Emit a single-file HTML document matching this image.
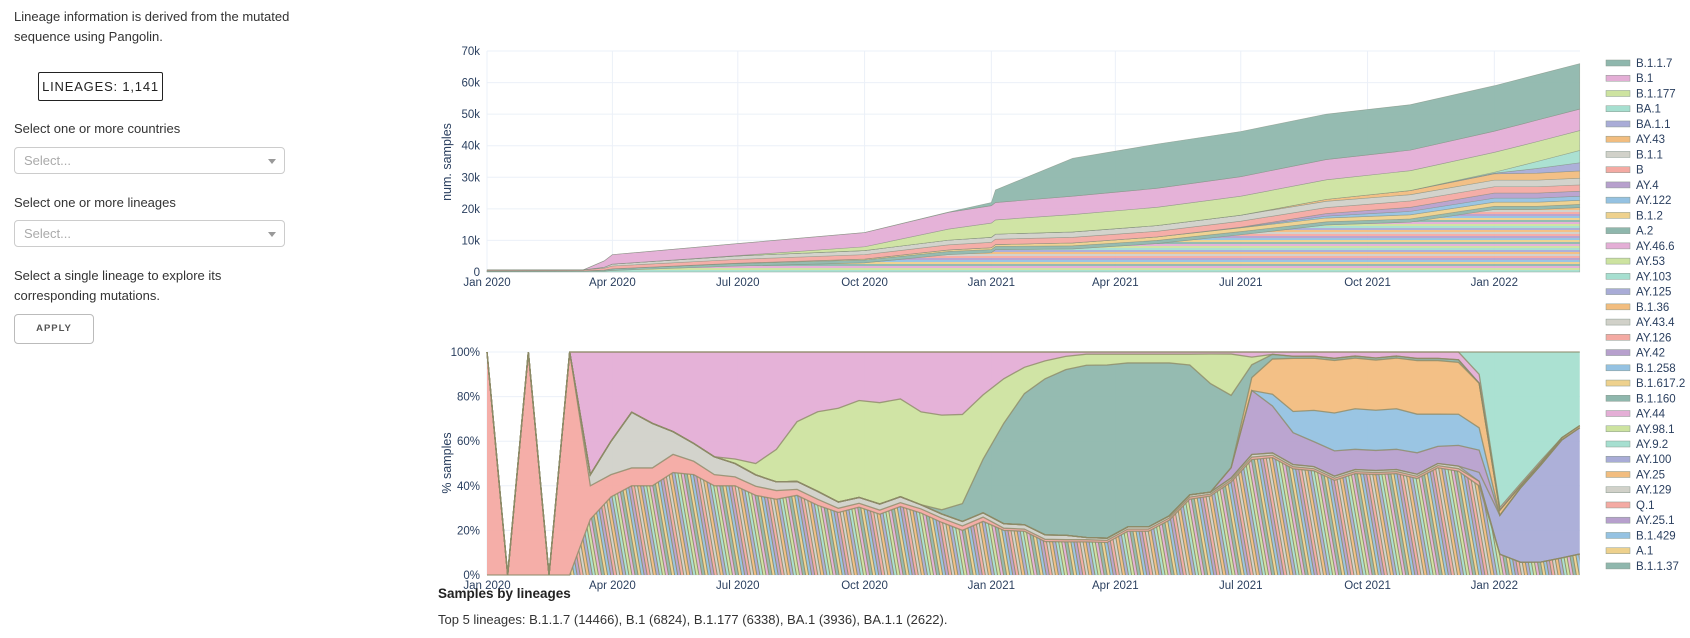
<!DOCTYPE html>
<html><head><meta charset="utf-8">
<style>
body{margin:0;width:1690px;height:638px;overflow:hidden;background:#fff;font-family:"Liberation Sans",sans-serif;color:#333;}
.t{position:absolute;font-size:13px;color:#333;line-height:20px;white-space:nowrap;}
.sel{position:absolute;left:14px;width:271px;height:27px;border:1px solid #ccc;border-radius:4px;box-sizing:border-box;}
.sel span{position:absolute;left:9px;top:5px;font-size:13px;color:#aaa;}
.sel i{position:absolute;right:8px;top:11px;width:0;height:0;border-left:4px solid transparent;border-right:4px solid transparent;border-top:5px solid #999;}
</style></head><body>
<div class="t" style="left:14px;top:7px;">Lineage information is derived from the mutated<br>sequence using Pangolin.</div>
<div style="position:absolute;left:38px;top:72px;width:125px;height:29px;border:1px solid #222;border-radius:2px;box-sizing:border-box;font-size:13px;letter-spacing:0.8px;color:#222;text-align:center;line-height:27px;white-space:nowrap;">LINEAGES: 1,141</div>
<div class="t" style="left:14px;top:119px;">Select one or more countries</div>
<div class="sel" style="top:147px;"><span>Select...</span><i></i></div>
<div class="t" style="left:14px;top:193px;">Select one or more lineages</div>
<div class="sel" style="top:220px;"><span>Select...</span><i></i></div>
<div class="t" style="left:14px;top:266px;">Select a single lineage to explore its<br>corresponding mutations.</div>
<div style="position:absolute;left:14px;top:314px;width:80px;height:30px;border:1px solid #bbb;border-radius:4px;box-sizing:border-box;font-size:9.5px;font-weight:bold;letter-spacing:1px;color:#555;text-align:center;line-height:28px;">APPLY</div>
<div style="position:absolute;left:438px;top:586px;font-size:13.5px;font-weight:bold;color:#222;">Samples by lineages</div>
<div style="position:absolute;left:438px;top:612px;font-size:13px;color:#333;">Top 5 lineages: B.1.1.7 (14466), B.1 (6824), B.1.177 (6338), BA.1 (3936), BA.1.1 (2622).</div>
<svg id="chart" width="1690" height="638" style="position:absolute;left:0;top:0;pointer-events:none" xmlns="http://www.w3.org/2000/svg"></svg>
<script>
// ---- data ----
const topDays=[0,70,85,91,182,274,335,366,369,425,486,547,609,670,731,762,793];
const topNames=["other","A.2","B.1.2","AY.122","AY.4","B","B.1.1","AY.43","BA.1.1","BA.1","B.1.177","B.1","B.1.1.7"];
const t_other=[0.2,0.25,0.3,0.5,1.9,2.9,5.5,6.1,7.1,7.3,9,11.8,14.9,15.8,19.8,19.8,20.4];
const t_A2=[0.1,0.1,0.3,0.5,0.8,0.9,1,1,1,1,1,1,1,1,1,1,1];
const t_B12=[0,0,0,0,0.1,0.3,0.5,0.6,0.6,0.9,1.1,1.2,1.2,1.3,1.3,1.3,1.3];
const t_AY122=[0,0,0,0,0,0,0,0,0,0,0,0.1,0.6,1.1,1.3,1.3,1.3];
const t_AY4=[0,0,0,0,0,0,0,0,0,0,0,0.1,0.8,1.3,1.6,1.6,1.6];
const t_B=[0.3,0.35,0.6,0.9,1.2,1.4,1.6,1.7,1.7,1.8,1.8,1.9,1.9,2,2,2,2];
const t_B11=[0,0,0.3,0.6,1.1,1.3,1.5,1.6,1.6,1.7,1.8,1.9,2,2,2.1,2.1,2.1];
const t_AY43=[0,0,0,0,0,0,0,0,0,0,0,0,0.6,1.3,2,2.2,2.3];
const t_BA11=[0,0,0,0,0,0,0,0,0,0,0,0,0,0,0.2,1.5,2.6];
const t_BA1=[0,0,0,0,0,0,0,0,0,0,0,0,0,0,0.3,2.2,3.9];
const t_B1177=[0,0,0,0,0.1,1.2,3.5,4.5,4.5,5.5,5.8,6,6.2,6.3,6.3,6.3,6.3];
const t_B1=[0,0,2,3,3.8,4.5,5.3,5.5,5.5,5.8,6,6.2,6.4,6.5,6.7,6.8,6.8];
const t_B117=[0,0,0,0,0,0,0.1,1,4,12,14,14.3,14.4,14.4,14.4,14.4,14.4];
const topSeries=[t_other,t_A2,t_B12,t_AY122,t_AY4,t_B,t_B11,t_AY43,t_BA11,t_BA1,t_B1177,t_B1,t_B117];
const topTicks=[0,10,20,30,40,50,60,70];
const topTickLabels=["0","10k","20k","30k","40k","50k","60k","70k"];
const xTickDays=[0,91,182,274,366,456,547,639,731];
const xTickLabels=["Jan 2020","Apr 2020","Jul 2020","Oct 2020","Jan 2021","Apr 2021","Jul 2021","Oct 2021","Jan 2022"];
const botDays=[0,15,30,45,60,75,90,105,120,135,150,165,180,195,210,225,240,255,270,285,300,315,330,345,360,375,390,405,420,435,450,465,480,495,510,525,540,555,570,585,600,615,630,645,660,675,690,705,720,735,750,765,780,793];
const botNames=["other","B","B.1.1","BA.1.1","AY.4","AY.122","AY.43","B.1.1.7","B.1.177","B.1","BA.1"];
const p_other=[0,0,0,0,0,25,35,40,40,45,45,40,40,35,35,40,35,30,35,30,35,30,25,20,25,20,20,15,15,15,15,20,20,25,35,40,45,45,50,50,50,45,50,50,50,45,50,40,20,8,6,6,8,10];
const p_B=[100,0,100,0,100,15,10,8,8,8,6,5,4,4,4,3,3,2,2,2,2,2,2,2,2,1,1,1,1,1,1,1,1,1,1,1,1,1,1,1,1,1,1,1,1,1,1,1,1,0,0,0,0,0];
const p_B11=[0,0,0,0,0,5,15,25,20,10,8,8,6,5,4,4,4,3,3,3,3,2,2,2,2,2,2,2,2,1,1,1,1,1,1,1,1,1,1,1,1,1,1,1,1,1,1,1,0,0,0,0,0,0];
const p_BA11=[0,0,0,0,0,0,0,0,0,0,0,0,0,0,0,0,0,0,0,0,0,0,0,0,0,0,0,0,0,0,0,0,0,0,0,0,0,0,0,0,0,0,0,0,0,0,0,0,2,15,35,45,55,60];
const p_AY4=[0,0,0,0,0,0,0,0,0,0,0,0,0,0,0,0,0,0,0,0,0,0,0,0,0,0,0,0,0,0,0,0,0,0,0,0,5,25,20,15,12,12,10,10,10,10,8,8,5,0,0,0,0,0];
const p_AY122=[0,0,0,0,0,0,0,0,0,0,0,0,0,0,0,0,0,0,0,0,0,0,0,0,0,0,0,0,0,0,0,0,0,0,0,0,0,0,5,10,15,18,20,20,20,18,15,12,5,0,0,0,0,0];
const p_AY43=[0,0,0,0,0,0,0,0,0,0,0,0,0,0,0,0,0,0,0,0,0,0,0,0,0,0,0,0,0,0,0,0,0,0,0,0,0,5,15,25,25,25,25,25,25,25,25,20,10,2,1,1,1,1];
const p_B117=[0,0,0,0,0,0,0,0,0,0,0,0,0,0,0,0,0,0,0,0,0,0,2,8,25,45,60,70,75,78,80,75,75,70,60,55,35,5,2,1,1,1,1,1,1,1,1,1,0,0,0,0,0,0];
const p_B1177=[0,0,0,0,0,0,0,0,0,0,0,0,2,5,15,30,40,45,50,50,50,45,45,40,30,20,12,8,6,5,5,4,4,4,5,15,20,3,0,0,0,0,0,0,0,0,0,0,0,0,0,0,0,0];
const p_B1=[0,0,0,0,0,55,40,27,32,35,41,47,48,49,45,35,30,27,25,25,24,29,30,28,20,12,7,4,2,1,1,1,1,1,1,1,1,2,1,2,2,3,2,3,2,3,3,3,2,1,1,1,0,0];
const p_BA1=[0,0,0,0,0,0,0,0,0,0,0,0,0,0,0,0,0,0,0,0,0,0,0,0,0,0,0,0,0,0,0,0,0,0,0,0,0,0,0,0,0,0,0,0,0,0,0,0,5,60,62,50,40,35];
const botSeries=[p_other,p_B,p_B11,p_BA11,p_AY4,p_AY122,p_AY43,p_B117,p_B1177,p_B1,p_BA1];
const botTicks=[0,20,40,60,80,100];
const botTickLabels=["0%","20%","40%","60%","80%","100%"];
const legendNames=["B.1.1.7","B.1","B.1.177","BA.1","BA.1.1","AY.43","B.1.1","B","AY.4","AY.122","B.1.2","A.2","AY.46.6","AY.53","AY.103","AY.125","B.1.36","AY.43.4","AY.126","AY.42","B.1.258","B.1.617.2","B.1.160","AY.44","AY.98.1","AY.9.2","AY.100","AY.25","AY.129","Q.1","AY.25.1","B.1.429","A.1","B.1.1.37"];
// ---- drawing ----
const palette=["#8fb7ad","#e4aed6","#cde3a0","#a6dfd0","#a9acd7","#f2bd7f","#d1d1c9","#f4aaa3","#b7a0cd","#95c2e2","#eed18d"];
const svg=document.getElementById('chart');
const NS="http://www.w3.org/2000/svg";
function mk(tag,attrs,parent){const e=document.createElementNS(NS,tag);for(const k in attrs)e.setAttribute(k,attrs[k]);(parent||svg).appendChild(e);return e;}
const X0=487,XS=1.378,XR=1580;
const xs=d=>X0+d*XS;
const yTop=v=>272-v/70*221;
const yBot=p=>575-p*2.23;
const defs=mk('defs',{});
const pat=mk('pattern',{id:'stripes',patternUnits:'userSpaceOnUse',width:8,height:22},defs);
palette.forEach((c,i)=>mk('rect',{x:0,y:i*2,width:8,height:2,fill:c},pat));
const pat2=mk('pattern',{id:'stripes2',patternUnits:'userSpaceOnUse',width:6,height:33,patternTransform:'rotate(80)'},defs);
palette.forEach((c,i)=>{mk('rect',{x:0,y:i*3,width:6,height:2,fill:c},pat2);mk('rect',{x:0,y:i*3+2,width:6,height:1,fill:'#8c8a66'},pat2);});
const colorOf=(n,bot)=>n==="other"?(bot?"url(#stripes2)":"url(#stripes)"):palette[legendNames.indexOf(n)%11];
function grid(yfn,ticks,labels,y0,y1){
  ticks.forEach((t,i)=>{
    const g=mk('line',{x1:X0,x2:XR,y1:yfn(t),y2:yfn(t),stroke:'#ebf0f8','stroke-width':1});
    
    
    const tx=mk('text',{x:480,y:yfn(t)+4,'text-anchor':'end','font-size':11.5,fill:'#2a3f5f'});
    tx.textContent=labels[i];
    
    
  });
  xTickDays.forEach((d,i)=>{
    const g=mk('line',{x1:xs(d),x2:xs(d),y1:y0,y2:y1,stroke:'#ebf0f8','stroke-width':1});
    
    
    const tx=mk('text',{x:xs(d),y:y1+14,'text-anchor':'middle','font-size':11.5,fill:'#2a3f5f'});
    tx.textContent=xTickLabels[i];
    
    
  });
}
grid(yTop,topTicks,topTickLabels,51,272);
grid(yBot,botTicks,botTickLabels,352,575);
let base=topDays.map(()=>0);
topSeries.forEach((s,k)=>{
  const top=base.map((b,i)=>b+s[i]);
  let d='M'+topDays.map((dd,i)=>xs(dd)+','+yTop(top[i])).join('L');
  for(let i=topDays.length-1;i>=0;i--)d+='L'+xs(topDays[i])+','+yTop(base[i]);
  const p=mk('path',{d:d+'Z',fill:colorOf(topNames[k],false),stroke:'#7f8a7a','stroke-width':0.6,'stroke-opacity':0.6,'fill-opacity':0.95});
  
  
  base=top;
});
const totals=botDays.map((_,i)=>botSeries.reduce((a,s)=>a+s[i],0));
let bb=botDays.map(()=>0);
const tops=[];
botSeries.forEach((s,k)=>{
  const top=bb.map((b,i)=>b+(totals[i]?s[i]/totals[i]*100:0));
  let d='M'+botDays.map((dd,i)=>xs(dd)+','+yBot(top[i])).join('L');
  for(let i=botDays.length-1;i>=0;i--)d+='L'+xs(botDays[i])+','+yBot(bb[i]);
  const p=mk('path',{d:d+'Z',fill:colorOf(botNames[k],true),'fill-opacity':0.95});
  
  
  tops.push(top);
  bb=top;
});
tops.forEach((top,k)=>{
  const l=mk('path',{d:'M'+botDays.map((dd,i)=>xs(dd)+','+yBot(top[i])).join('L'),fill:'none',stroke:'#8c8a66','stroke-width':1.3,'stroke-opacity':0.8});
  
  
});
const t1=mk('text',{x:0,y:0,transform:'translate(451,162) rotate(-90)','text-anchor':'middle','font-size':12.5,fill:'#2a3f5f'});
t1.textContent='num. samples';


const t2=mk('text',{x:0,y:0,transform:'translate(451,463) rotate(-90)','text-anchor':'middle','font-size':12.5,fill:'#2a3f5f'});
t2.textContent='% samples';


legendNames.forEach((n,i)=>{
  const y=63+i*15.24;
  const r=mk('rect',{x:1606,y:y-3,width:24,height:6,fill:palette[i%11],stroke:'#8a9a90','stroke-width':0.5});
  
  
  const tx=mk('text',{x:1636,y:y+4,'font-size':11.5,fill:'#2a3f5f'});
  tx.textContent=n;
  
  
});
</script>
</body></html>
